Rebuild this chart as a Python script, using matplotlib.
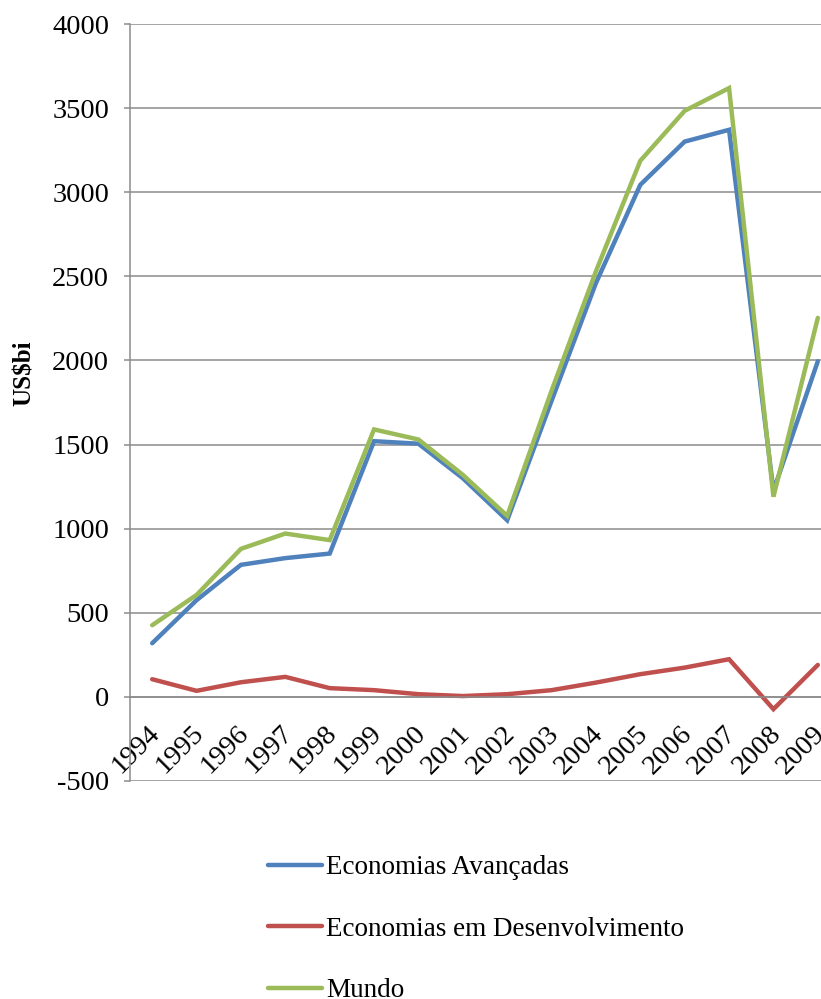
import matplotlib
matplotlib.use("Agg")
import matplotlib.pyplot as plt
import matplotlib.transforms as mtransforms
from matplotlib.ticker import MultipleLocator

years = ["1994", "1995", "1996", "1997", "1998", "1999", "2000", "2001",
         "2002", "2003", "2004", "2005", "2006", "2007", "2008", "2009"]
avancadas = [319, 575, 785, 825, 852, 1520, 1505, 1300,
             1050, 1760, 2460, 3044, 3301, 3371, 1225, 1995]
desenvolvimento = [105, 36, 87, 119, 52, 40, 16, 5,
                   16, 40, 85, 135, 174, 224, -73, 190]
mundo = [426, 606, 880, 971, 932, 1590, 1530, 1320,
         1076, 1820, 2530, 3187, 3484, 3619, 1190, 2253]

series_names = ["Economias Avançadas", "Economias em Desenvolvimento", "Mundo"]
colors = ["#4F81BD", "#C0504D", "#9BBB59"]

plt.rcParams["font.family"] = ["Liberation Serif", "DejaVu Serif"]
plt.rcParams["axes.unicode_minus"] = False

fig = plt.figure(figsize=(8.21, 9.99), dpi=100)
ax = fig.add_axes([130 / 821, 1 - 781 / 999, 710 / 821, 757 / 999])

x = list(range(len(years)))
for vals, name, c in zip([avancadas, desenvolvimento, mundo], series_names, colors):
    ax.plot(x, vals, color=c, lw=3.2, label=name, solid_joinstyle="miter",
            solid_capstyle="round")

ax.set_xlim(-0.5, len(years) - 0.5)
ax.set_ylim(-500, 4000)
ax.yaxis.set_major_locator(MultipleLocator(500))
ax.grid(axis="y", color="#8c8c8c", lw=1.1)
ax.set_axisbelow(True)

for s in ["top", "right"]:
    ax.spines[s].set_visible(False)
ax.spines["left"].set_color("#8c8c8c")
ax.spines["left"].set_linewidth(1.1)
ax.spines["bottom"].set_position(("data", 0))
ax.spines["bottom"].set_color("#8c8c8c")
ax.spines["bottom"].set_linewidth(1.1)

ax.set_xticks(x)
ax.set_xticklabels(years, rotation=45, ha="right", va="top",
                   rotation_mode="anchor", fontsize=20.5)
ax.tick_params(axis="x", length=0, pad=0)
# nudge the slanted year labels down and slightly left of their category
shift = mtransforms.ScaledTranslation(-5 / 100, -24 / 100, fig.dpi_scale_trans)
for lbl in ax.get_xticklabels():
    lbl.set_transform(lbl.get_transform() + shift)

ax.tick_params(axis="y", length=4, width=1.1, color="#8c8c8c", pad=11,
               labelsize=20.5)

ax.set_ylabel("US$bi", fontsize=18, fontweight="bold")
ax.yaxis.set_label_coords(-0.133, 0.539)

fig.legend(loc="upper left", bbox_to_anchor=(268 / 821, 1 - 855 / 999),
           frameon=False, fontsize=19.5, handlelength=2.0, handletextpad=0.15,
           labelspacing=1.35, borderpad=0, borderaxespad=0)

fig.savefig("out.png", dpi=100)
